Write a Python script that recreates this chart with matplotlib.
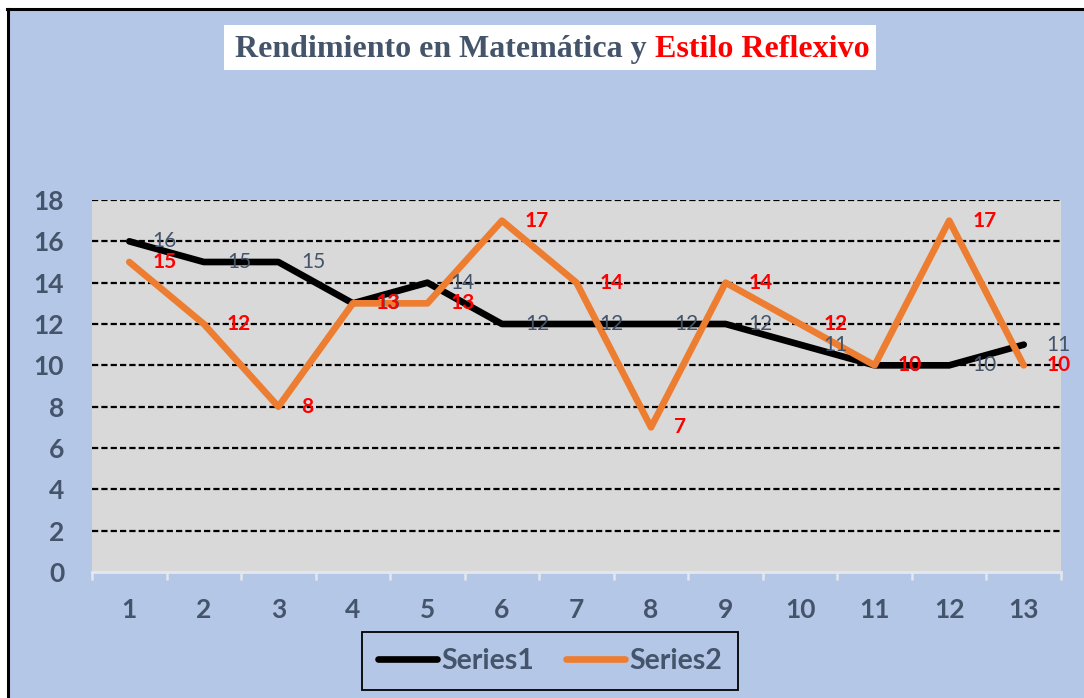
import matplotlib
matplotlib.use("Agg")
import matplotlib.pyplot as plt
from matplotlib.patches import Rectangle
from matplotlib.lines import Line2D

# data
categories = [1, 2, 3, 4, 5, 6, 7, 8, 9, 10, 11, 12, 13]
series1 = [16, 15, 15, 13, 14, 12, 12, 12, 12, 11, 10, 10, 11]
series2 = [15, 12, 8, 13, 13, 17, 14, 7, 14, 12, 10, 17, 10]
y_ticks = [0, 2, 4, 6, 8, 10, 12, 14, 16, 18]
series_names = ["Series1", "Series2"]
title_a = "Rendimiento en Matemática y"
title_b = "Estilo Reflexivo"

W, H = 1084, 698
BLUE = "#B4C7E7"
GRAY_TXT = "#44546A"
ORANGE = "#ED7D31"
RED = "#FF0000"

fig = plt.figure(figsize=(W / 100, H / 100), dpi=100, facecolor="white")

# blue chart background with black top/left border
fig.patches.append(Rectangle((8 / W, 0), 1 - 8 / W, (H - 9) / H, transform=fig.transFigure,
                             facecolor=BLUE, edgecolor="none", zorder=-10))
fig.lines.append(Line2D([7 / W, 1], [(H - 9) / H, (H - 9) / H], transform=fig.transFigure,
                        color="black", lw=2.2))
fig.lines.append(Line2D([8 / W, 8 / W], [0, (H - 9) / H], transform=fig.transFigure,
                        color="black", lw=2.2))

# title box
fig.patches.append(Rectangle((224 / W, (H - 70) / H), (876 - 224) / W, 45 / H,
                             transform=fig.transFigure, facecolor="white", edgecolor="none"))

ax = fig.add_axes([92 / W, (H - 572) / H, (1061 - 92) / W, (572 - 200) / H])
ax.set_facecolor("#D9D9D9")
ax.set_xlim(0.5, 13.5)
ax.set_ylim(0, 18)

ax.plot(categories, series1, color="black", lw=4.8, solid_joinstyle="round",
        solid_capstyle="round", label=series_names[0], zorder=3)
ax.plot(categories, series2, color=ORANGE, lw=4.8, solid_joinstyle="round",
        solid_capstyle="round", label=series_names[1], zorder=3)

for x, y in zip(categories, series1):
    ax.annotate(str(y), (x, y), xytext=(23, 0), textcoords="offset pixels",
                ha="left", va="center", fontsize=15, family="Lato",
                color=GRAY_TXT, zorder=5)
for x, y in zip(categories, series2):
    ax.annotate(str(y), (x, y), xytext=(23, 0), textcoords="offset pixels",
                ha="left", va="center", fontsize=15, family="Lato", fontweight="bold",
                color=RED, zorder=5)

ax.set_yticks(y_ticks)
ax.yaxis.grid(True, color="black", lw=1.6, linestyle=(0, (2.8, 1.4)))
ax.get_ygridlines()[0].set_visible(False)
ax.set_axisbelow(True)
ax.tick_params(axis="y", length=0, pad=20, labelsize=19, labelcolor=GRAY_TXT)

ax.set_xticks(categories)
ax.set_xticks([c - 0.5 for c in categories] + [13.5], minor=True)
ax.tick_params(axis="x", which="major", length=0, pad=19, labelsize=19, labelcolor=GRAY_TXT)
ax.tick_params(axis="x", which="minor", length=6, width=1.8, color="#E4E8EE", direction="out")
for lab in ax.get_xticklabels() + ax.get_yticklabels():
    lab.set_fontweight("bold")
    lab.set_family("Lato")

for s in ["top", "right", "left"]:
    ax.spines[s].set_visible(False)
ax.spines["bottom"].set_color("#E4E8EE")
ax.spines["bottom"].set_linewidth(2)

leg = ax.legend(loc="center", bbox_to_anchor=(550 / W, 37 / H), bbox_transform=fig.transFigure,
                ncol=2, frameon=True, fancybox=False, framealpha=1, handlelength=2.1,
                handletextpad=0.15, columnspacing=1.1, borderpad=0.55, borderaxespad=0,
                prop={"family": "Lato", "weight": "bold", "size": 20.5})
leg.get_frame().set_facecolor(BLUE)
leg.get_frame().set_edgecolor("black")
leg.get_frame().set_linewidth(1.3)
for t in leg.get_texts():
    t.set_color(GRAY_TXT)

# two-colour title
ty = (H - 57) / H
t1 = fig.text(235 / W, ty, title_a, ha="left", va="baseline", family="Liberation Serif",
              fontweight="bold", fontsize=23, color=GRAY_TXT)
fig.canvas.draw()
bb = t1.get_window_extent(fig.canvas.get_renderer())
fig.text((bb.x1 + 8) / W, ty, title_b, ha="left", va="baseline", family="Liberation Serif",
         fontweight="bold", fontsize=23, color=RED)

fig.savefig("out.png", dpi=100, facecolor=fig.get_facecolor())
